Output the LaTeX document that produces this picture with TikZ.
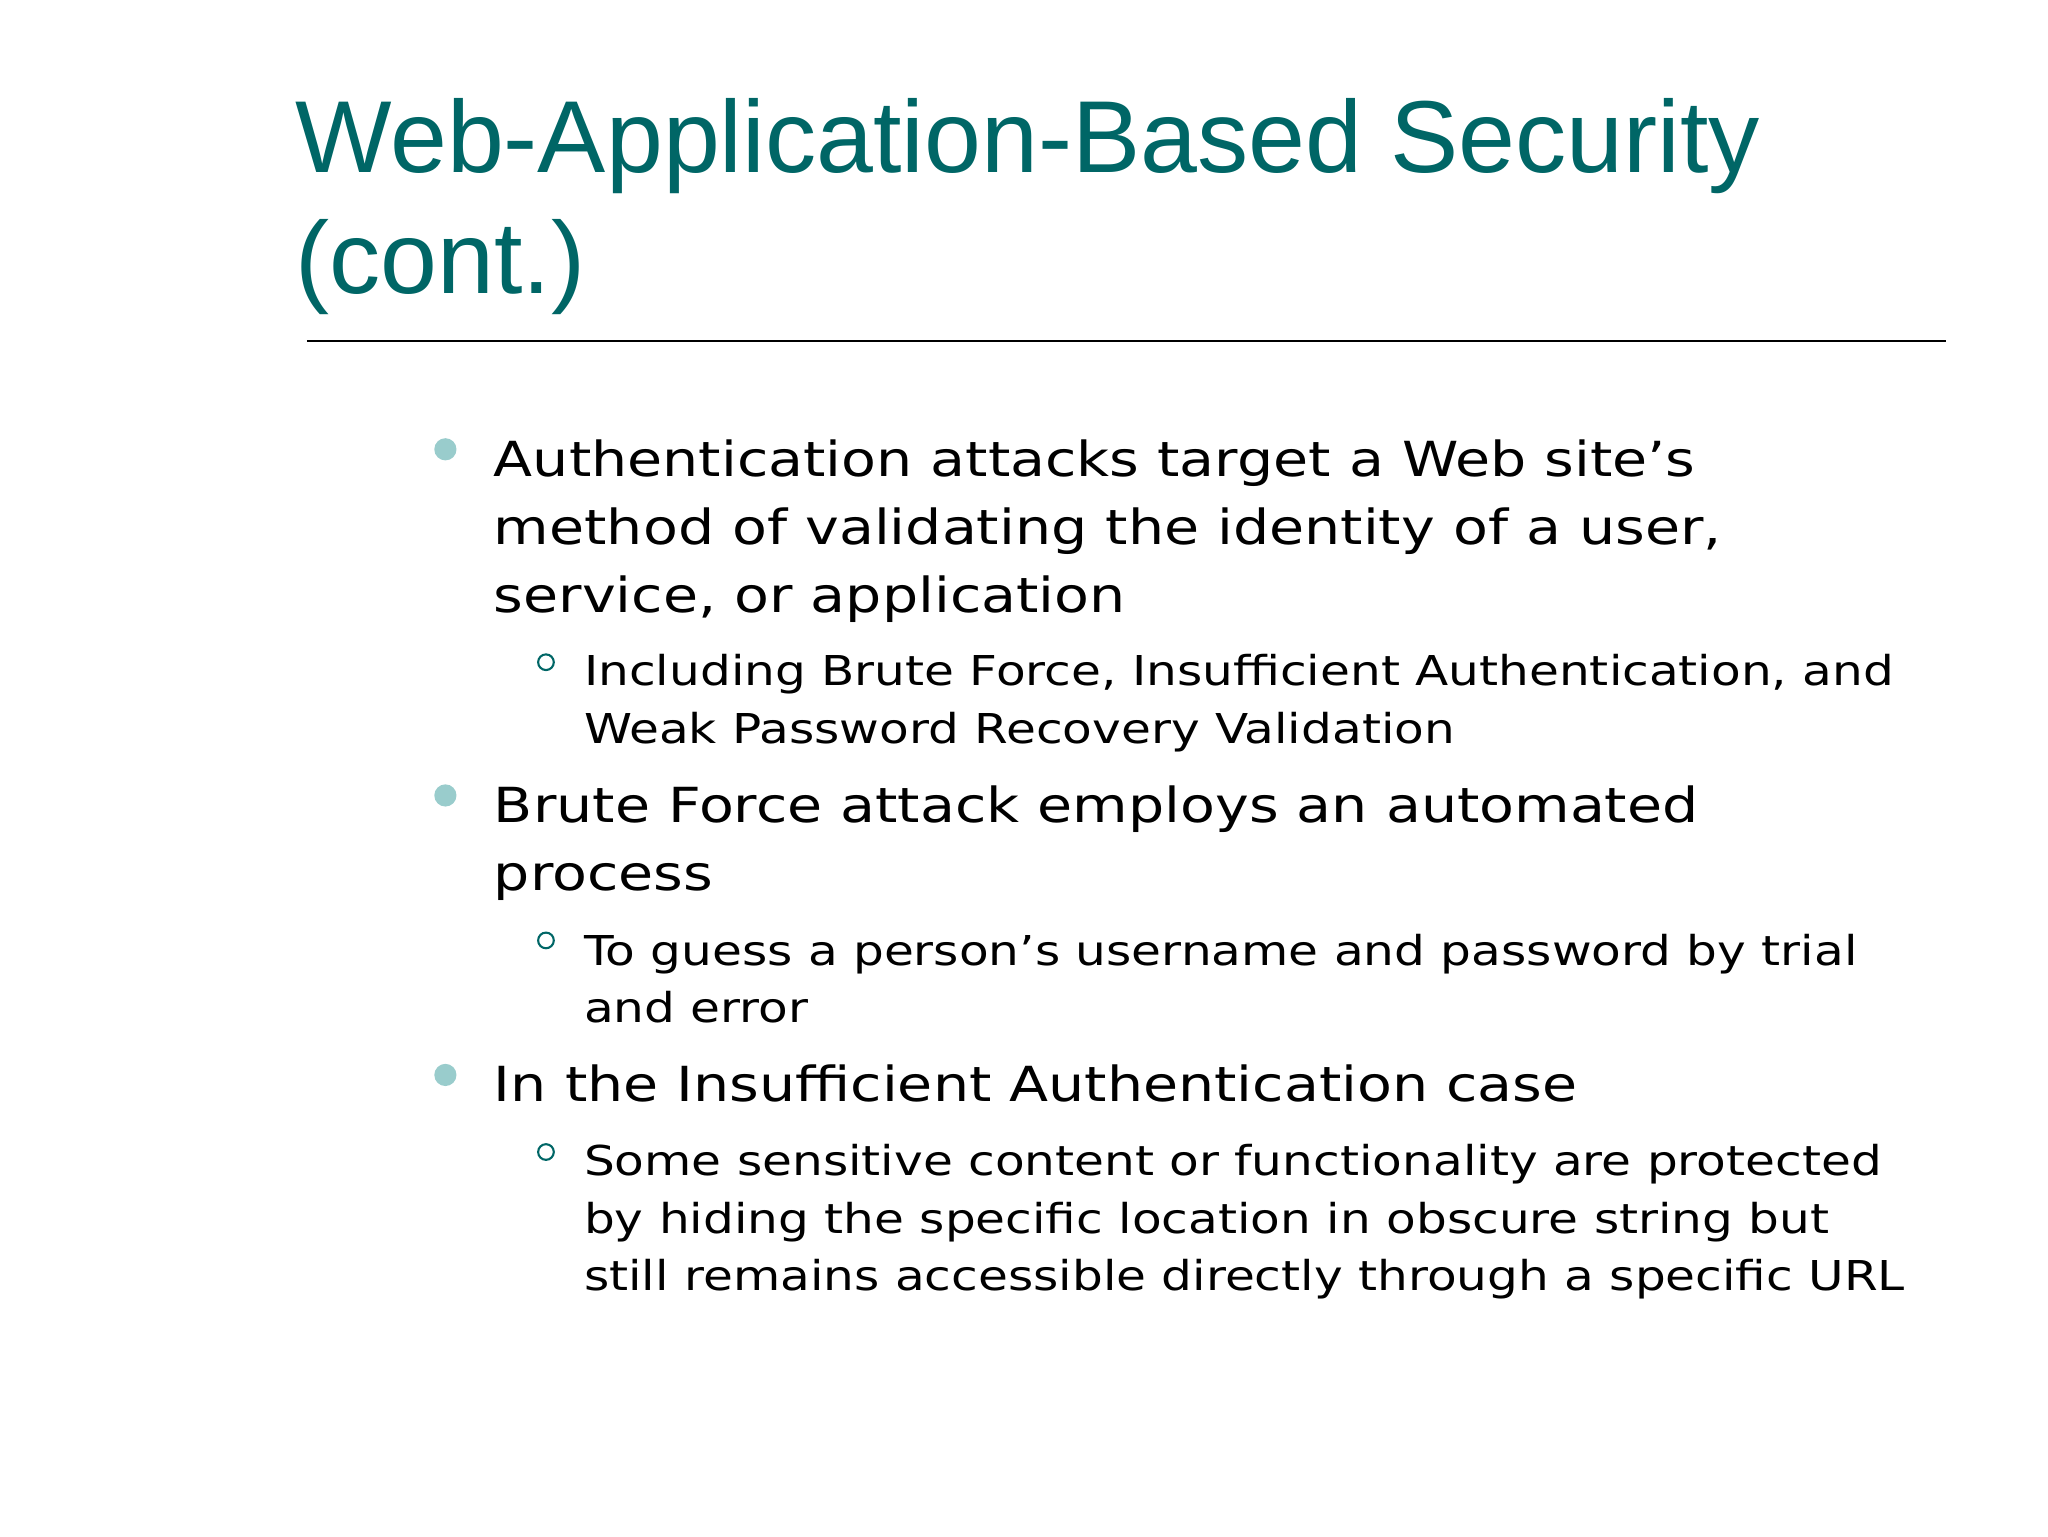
\documentclass[tikz,border=0pt]{standalone}
\usepackage{fontspec}
\setmainfont[FakeStretch=1.18]{DejaVu Sans}
\newfontfamily\titlefont{Liberation Sans}
\definecolor{teal1}{RGB}{0,102,102}
\definecolor{teal2}{RGB}{153,204,204}
\begin{document}
\begin{tikzpicture}[x=1pt,y=-1pt,
  ttl/.style={anchor=base west,inner sep=0,text=teal1,font=\titlefont\fontsize{78.3}{84}\selectfont},
  lone/.style={anchor=base west,inner sep=0,font=\fontsize{37}{40}\selectfont},
  ltwo/.style={anchor=base west,inner sep=0,font=\fontsize{31.5}{34}\selectfont},
  dotone/.style={circle,fill=teal2,inner sep=0,minimum size=17pt},
  dottwo/.style={circle,draw=teal1,line width=1.6pt,inner sep=0,minimum size=12pt}]
\useasboundingbox (0,0) rectangle (1568,1176);
\node[ttl] (t1) at (226,132) {Web-Application-Based Security};
\node[ttl] (t2) at (226,225) {(cont.)};
\draw[line width=1.5pt] (235,261) -- (1490,261);
% bullet 1
\node[dotone] (b1) at (341,344) {};
\node[lone] (a1) at (378,365) {Authentication attacks target a Web site’s};
\node[lone] (a2) at (378,417) {method of validating the identity of a user,};
\node[lone] (a3) at (378,469) {service, or application};
\node[dottwo] (s1) at (418,507) {};
\node[ltwo] (c1) at (447,525) {Including Brute Force, Insufficient Authentication, and};
\node[ltwo] (c2) at (447,569) {Weak Password Recovery Validation};
% bullet 2
\node[dotone] (b2) at (341,609) {};
\node[lone] (d1) at (378,630) {Brute Force attack employs an automated};
\node[lone] (d2) at (378,682) {process};
\node[dottwo] (s2) at (418,720) {};
\node[ltwo] (e1) at (447,739) {To guess a person’s username and password by trial};
\node[ltwo] (e2) at (447,783) {and error};
% bullet 3
\node[dotone] (b3) at (341,823) {};
\node[lone] (f1) at (378,843) {In the Insufficient Authentication case};
\node[dottwo] (s3) at (418,882) {};
\node[ltwo] (g1) at (447,900) {Some sensitive content or functionality are protected};
\node[ltwo] (g2) at (447,944) {by hiding the specific location in obscure string but};
\node[ltwo] (g3) at (447,988) {still remains accessible directly through a specific URL};
\end{tikzpicture}
\end{document}
